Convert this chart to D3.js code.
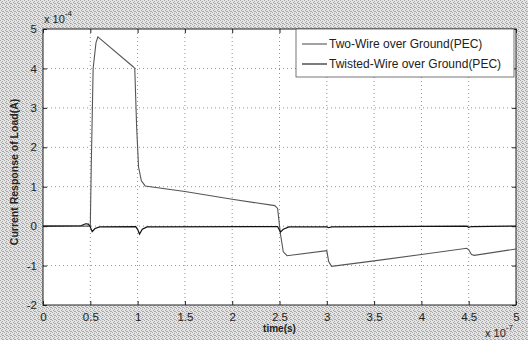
<!DOCTYPE html>
<html>
<head>
<meta charset="utf-8">
<script src="https://cdn.jsdelivr.net/npm/d3@7"></script>
<style>
  body { margin: 0; background: #fff; }
  text { font-family: "Liberation Sans", Arial, sans-serif; }
</style>
</head>
<body>
<div id="chart-area"></div>
<script>
// time in units of 1e-7 s, current in units of 1e-4 A
var twoWireT = [0, 0.5, 0.51, 0.53, 0.56, 0.58, 0.95, 0.97, 0.99, 1.01, 1.04, 1.08, 1.5, 2.0, 2.45, 2.48, 2.51, 2.54, 2.58, 3.0, 3.02, 3.05, 3.5, 4.0, 4.48, 4.5, 4.53, 4.56, 5.0];
var twoWireV = [0, 0, 1.5, 4.0, 4.65, 4.8, 4.05, 4.0, 2.5, 1.5, 1.15, 1.02, 0.88, 0.68, 0.52, 0.45, -0.2, -0.65, -0.75, -0.62, -0.9, -1.02, -0.88, -0.72, -0.56, -0.6, -0.72, -0.74, -0.58];

var twistedT = [0, 0.4, 0.45, 0.48, 0.5, 0.52, 0.55, 0.6, 0.98, 1.0, 1.02, 1.05, 1.1, 2.48, 2.51, 2.54, 2.6, 3.0, 3.02, 3.05, 4.48, 4.5, 4.53, 5.0];
var twistedV = [0, 0.01, 0.06, 0.05, -0.02, -0.14, -0.06, -0.02, -0.01, -0.08, -0.2, -0.08, -0.02, -0.01, -0.15, -0.08, -0.02, -0.02, -0.04, -0.02, 0, -0.03, -0.01, 0];

var xTicks = [0, 0.5, 1, 1.5, 2, 2.5, 3, 3.5, 4, 4.5, 5];
var yTicks = [-2, -1, 0, 1, 2, 3, 4, 5];
var seriesNames = ["Two-Wire over Ground(PEC)", "Twisted-Wire over Ground(PEC)"];

var width = 528, height = 340;
var margin = { top: 29, right: 12, bottom: 35, left: 43 };
var plotW = width - margin.left - margin.right;
var plotH = height - margin.top - margin.bottom;

var svg = d3.select("#chart-area").append("svg")
  .attr("width", width)
  .attr("height", height);

// halftone-like grey background
var pat = svg.append("defs").append("pattern")
  .attr("id", "dither")
  .attr("width", 4).attr("height", 4)
  .attr("patternUnits", "userSpaceOnUse");
pat.append("rect").attr("width", 4).attr("height", 4).attr("fill", "#e4e4e4");
[[0, 0], [2, 1], [1, 2], [3, 3], [2, 3]].forEach(function (p) {
  pat.append("rect").attr("x", p[0]).attr("y", p[1]).attr("width", 1).attr("height", 1).attr("fill", "#a8a8a8");
});
svg.append("rect").attr("width", width).attr("height", height).attr("fill", "url(#dither)");

var g = svg.append("g").attr("transform", "translate(" + margin.left + "," + margin.top + ")");

g.append("rect").attr("width", plotW).attr("height", plotH).attr("fill", "#fff");

var x = d3.scaleLinear().domain([0, 5]).range([0, plotW]);
var y = d3.scaleLinear().domain([-2, 5]).range([plotH, 0]);

// grid
g.selectAll(".vgrid").data(xTicks.slice(1, -1)).enter().append("line")
  .attr("x1", d => x(d)).attr("x2", d => x(d))
  .attr("y1", 0).attr("y2", plotH)
  .attr("stroke", "#777").attr("stroke-width", 0.8).attr("stroke-dasharray", "1,3");
g.selectAll(".hgrid").data(yTicks.slice(1, -1)).enter().append("line")
  .attr("x1", 0).attr("x2", plotW)
  .attr("y1", d => y(d)).attr("y2", d => y(d))
  .attr("stroke", "#777").attr("stroke-width", 0.8).attr("stroke-dasharray", "1,3");

// axes (ticks inward)
var xAxis = d3.axisBottom(x).tickValues(xTicks).tickSize(-4).tickPadding(8).tickFormat(d => d);
var yAxis = d3.axisLeft(y).tickValues(yTicks).tickSize(-4).tickPadding(6).tickFormat(d => d);
var xG = g.append("g").attr("transform", "translate(0," + plotH + ")").call(xAxis);
var yG = g.append("g").call(yAxis);
var xTop = g.append("g").call(d3.axisTop(x).tickValues(xTicks).tickSize(-4).tickFormat(""));
var yRight = g.append("g").attr("transform", "translate(" + plotW + ",0)").call(d3.axisRight(y).tickValues(yTicks).tickSize(-4).tickFormat(""));
[xG, yG, xTop, yRight].forEach(function (a) {
  a.select(".domain").remove();
  a.selectAll("line").attr("stroke", "#222");
  a.selectAll("text").attr("font-size", "11.5px").attr("fill", "#222")
    .attr("font-family", "'Liberation Sans', Arial, sans-serif");
});

g.append("rect").attr("width", plotW).attr("height", plotH)
  .attr("fill", "none").attr("stroke", "#222").attr("stroke-width", 1);

// lines
var line = d3.line().x(d => x(d[0])).y(d => y(d[1]));
var twoWire = twoWireT.map((t, i) => [t, twoWireV[i]]);
var twisted = twistedT.map((t, i) => [t, twistedV[i]]);

g.append("path").datum(twoWire).attr("d", line)
  .attr("fill", "none").attr("stroke", "#555").attr("stroke-width", 1.1);
g.append("path").datum(twisted).attr("d", line)
  .attr("fill", "none").attr("stroke", "#111").attr("stroke-width", 1.2);

// legend
var leg = g.append("g").attr("transform", "translate(" + (296 - margin.left) + ",0)");
leg.append("rect").attr("width", 218).attr("height", 48)
  .attr("fill", "#fff").attr("stroke", "#555").attr("stroke-width", 0.8);
var legColors = ["#555", "#111"];
seriesNames.forEach(function (name, i) {
  var ly = 15 + i * 20;
  leg.append("line").attr("x1", 6).attr("x2", 31).attr("y1", ly).attr("y2", ly)
    .attr("stroke", legColors[i]).attr("stroke-width", 1.1);
  leg.append("text").attr("x", 33).attr("y", ly + 4)
    .attr("font-size", "12px").attr("fill", "#222").text(name);
});

// axis labels
svg.append("text").attr("x", margin.left + plotW / 2).attr("y", 332)
  .attr("text-anchor", "middle").attr("font-size", "10px").attr("font-weight", "bold")
  .attr("fill", "#222").text("time(s)");
svg.append("text").attr("transform", "translate(18," + (margin.top + plotH / 2 + 5) + ") rotate(-90)")
  .attr("text-anchor", "middle").attr("font-size", "10.5px").attr("font-weight", "bold")
  .attr("fill", "#222").text("Current Response of Load(A)");

// exponent labels
var e1 = svg.append("text").attr("x", 44).attr("y", 23).attr("font-size", "11px").attr("fill", "#222");
e1.append("tspan").text("x 10");
e1.append("tspan").attr("dy", -7).attr("font-size", "8px").text("-4");
var e2 = svg.append("text").attr("x", 485).attr("y", 337).attr("font-size", "11px").attr("fill", "#222");
e2.append("tspan").text("x 10");
e2.append("tspan").attr("dy", -7).attr("font-size", "8px").text("-7");
</script>
</body>
</html>
